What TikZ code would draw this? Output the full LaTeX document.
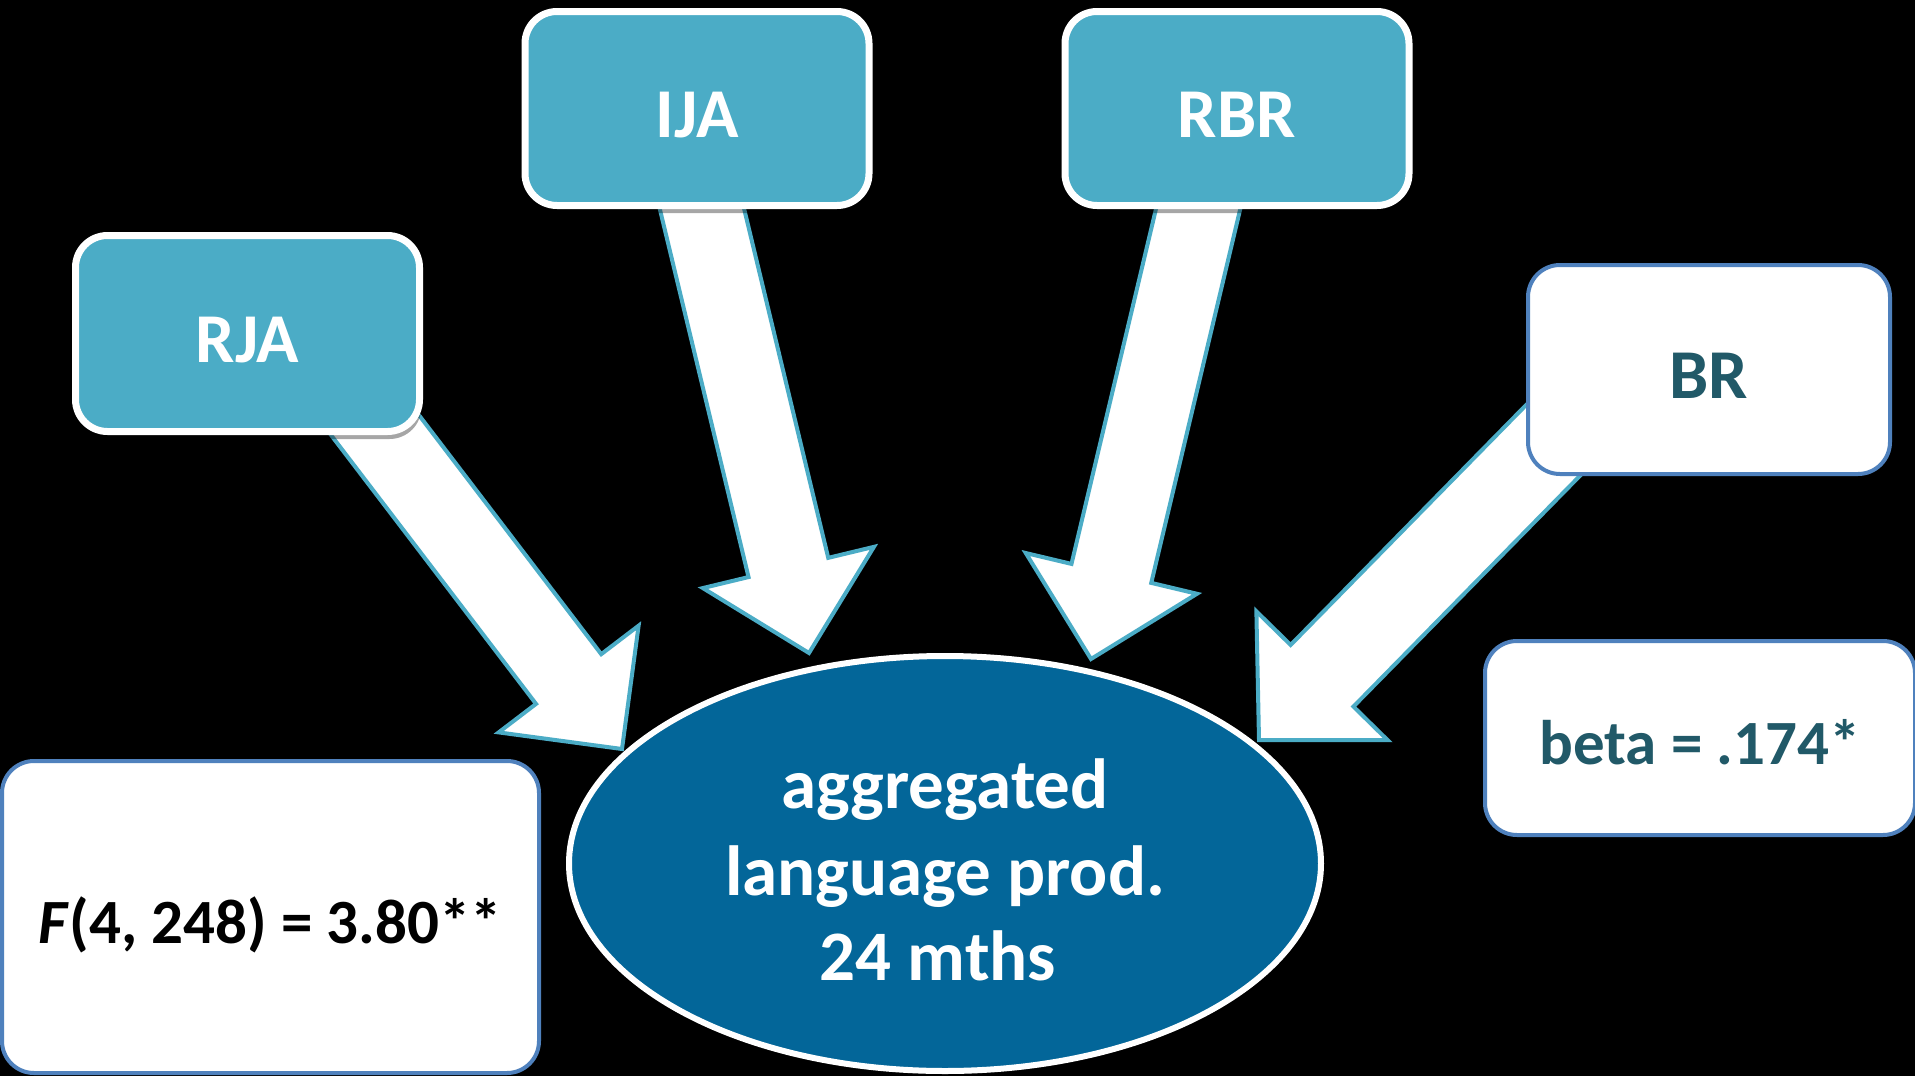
\documentclass[tikz,border=0pt]{standalone}
\usepackage{fontspec}
\setmainfont{Carlito}
\usetikzlibrary{calc,shapes.geometric,shadows}
\definecolor{tealfill}{HTML}{4BACC6}
\definecolor{deepblue}{HTML}{036699}
\definecolor{darkteal}{HTML}{215968}
\definecolor{boxline}{HTML}{4F81BD}
% #1 tail, #2 tip, #3 shaft half width, #4 head half width, #5 head length
\newcommand{\blockarrow}[5]{%
  \coordinate (ab) at ($(#2)!#5!(#1)$);
  \draw[arrowstyle] ($(#1)!#3!90:(#2)$) -- ($(ab)!#3!90:(#2)$) -- ($(ab)!#4!90:(#2)$)
    -- (#2) -- ($(ab)!#4!-90:(#2)$) -- ($(ab)!#3!-90:(#2)$) -- ($(#1)!#3!-90:(#2)$) -- cycle;
}
\tikzset{
  arrowstyle/.style={fill=white, draw=tealfill, line width=4pt, line join=miter},
  tealbox/.style={rectangle, rounded corners=32pt, fill=tealfill, draw=white, line width=7pt,
    minimum width=344pt, minimum height=194pt, inner sep=0pt, text=white,
    text height=57pt, text depth=0pt,
    font=\fontsize{70}{84}\selectfont\bfseries,
    drop shadow={shadow xshift=2pt, shadow yshift=-7.5pt, fill=black, opacity=0.35}},
  whitebox/.style={rectangle, rounded corners=32pt, fill=white, draw=boxline, line width=4pt,
    inner sep=0pt, text depth=0pt},
  bigtext/.style={font=\fontsize{70}{84}\selectfont\bfseries},
  stattext/.style={font=\fontsize{63}{76}\selectfont\bfseries},
  ltext/.style={anchor=base, text=white, inner sep=0pt, font=\fontsize{71}{86}\selectfont\bfseries},
}
\begin{document}
\begin{tikzpicture}[x=1pt, y=-1pt]
\useasboundingbox (0,0) rectangle (1915,1076);
\fill[black] (0,0) rectangle (1915,1076);

% arrow ends
\coordinate (rjaT) at (349,391);
\coordinate (rjaP) at (622,749);
\coordinate (ijaT) at (695,180);
\coordinate (ijaP) at (809,653);
\coordinate (rbrT) at (1205,180);
\coordinate (rbrP) at (1091,659);
\coordinate (brT)  at (1574,419);
\coordinate (brP)  at (1259,740);

% block arrows
\blockarrow{rjaT}{rjaP}{41pt}{88pt}{88pt}
\blockarrow{ijaT}{ijaP}{41pt}{88pt}{88pt}
\blockarrow{rbrT}{rbrP}{41pt}{88pt}{88pt}
\blockarrow{brT}{brP}{44pt}{92pt}{90pt}

% predictor boxes
\node[tealbox, minimum height=196pt] (rja) at (247.5,333.5) {RJA};
\node[tealbox] (ija) at (697,108.5) {IJA};
\node[tealbox] (rbr) at (1237,108.5) {RBR};
\node[whitebox, bigtext, text=darkteal, text height=57pt, minimum width=362pt, minimum height=209pt] (br) at (1709,369.5) {BR};

% statistics boxes
\node[whitebox, stattext, text=darkteal, text height=52pt, minimum width=430pt, minimum height=194pt] (beta) at (1700,738) {beta = .174*};
\node[whitebox, stattext, text=black, text height=52pt, minimum width=537pt, minimum height=312pt] (ftest) at (270.5,917) {\textit{F}(4, 248) = 3.80**};

% outcome ellipse
\node[ellipse, fill=deepblue, draw=white, line width=6pt, minimum width=752pt, minimum height=415pt, inner sep=0pt] (lang) at (945,863.5) {};
\node[ltext] (l1) at (945,808) {aggregated};
\node[ltext] (l2) at (945,895) {language prod.};
\node[ltext] (l3) at (938,980) {24 mths};
\end{tikzpicture}
\end{document}
